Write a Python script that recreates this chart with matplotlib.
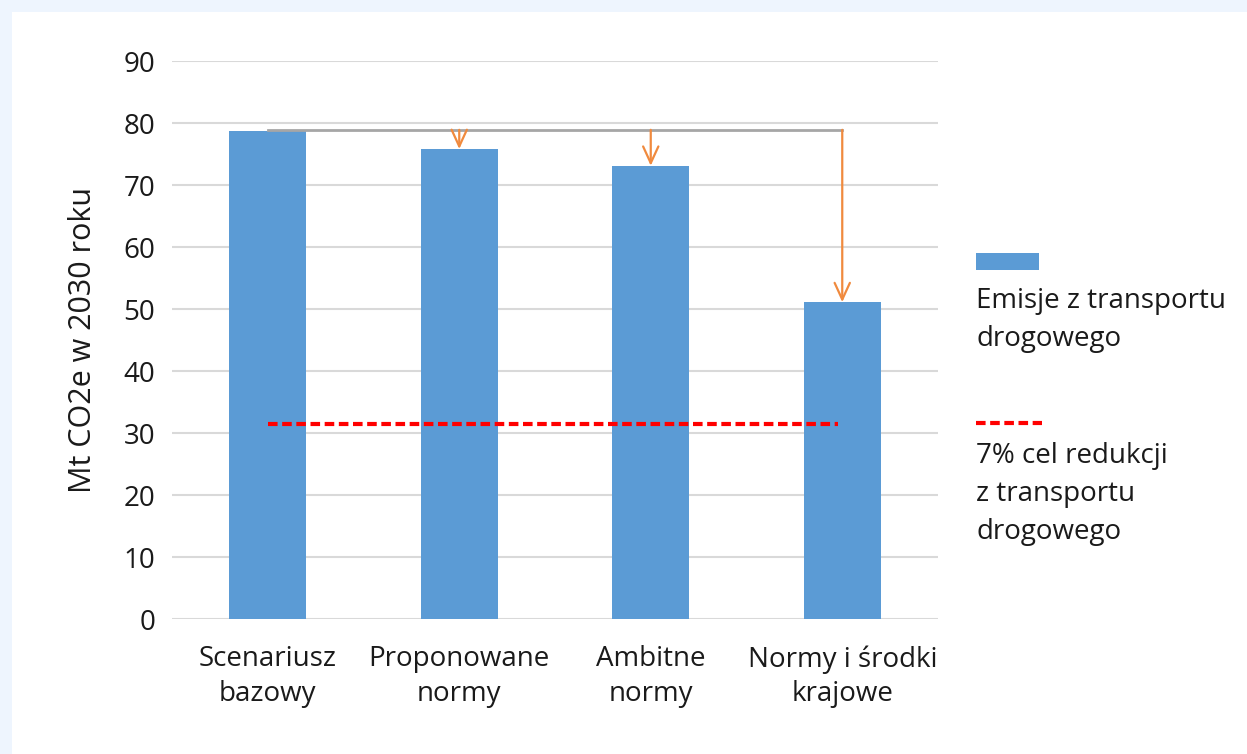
import matplotlib
matplotlib.use("Agg")
import matplotlib.pyplot as plt
from matplotlib.patches import Rectangle

plt.rcParams['font.family'] = ['Open Sans', 'DejaVu Sans']

categories = ["Scenariusz\nbazowy", "Proponowane\nnormy", "Ambitne\nnormy", "Normy i środki\nkrajowe"]
emissions = [78.7, 75.8, 73.1, 51.1]
target = 31.5
baseline_ref = 78.9
yticks = [0, 10, 20, 30, 40, 50, 60, 70, 80, 90]
ylabel = "Mt CO2e w 2030 roku"
legend_bar = "Emisje z transportu\ndrogowego"
legend_line = "7% cel redukcji\nz transportu\ndrogowego"

FS = 20
TXT = "#1a1a1a"
W, H = 1247, 754
fig = plt.figure(figsize=(W / 100, H / 100), dpi=100)
fig.patch.set_facecolor("#EEF5FE")
fig.patches.append(Rectangle((12 / W, 0), 1 - 12 / W, 1 - 12 / H, transform=fig.transFigure,
                             facecolor="white", edgecolor="none", zorder=-10))

ax = fig.add_axes([172 / W, 1 - 619 / H, (938 - 172) / W, (619 - 61) / H], zorder=2)
ax.set_facecolor("none")
x = list(range(len(categories)))
ax.bar(x, emissions, width=0.4, color="#5B9BD5", zorder=2)
ax.set_xlim(-0.5, 3.5)
ax.set_ylim(0, 90)
ax.set_yticks(yticks)
ax.set_yticklabels([str(v) for v in yticks], fontsize=FS, color=TXT)
ax.set_xticks(x)
ax.set_xticklabels(categories, fontsize=FS, color=TXT, linespacing=1.3)
ax.tick_params(axis="y", length=0, pad=12)
ax.tick_params(axis="x", length=0, pad=19)
ax.grid(axis="y", color="#D9D9D9", linewidth=1.5, zorder=0)
ax.set_axisbelow(True)
for s in ax.spines.values():
    s.set_visible(False)
ax.set_ylabel(ylabel, fontsize=22, color=TXT, labelpad=18)

DASH = (0, (2.3, 1.1))
# reference gray line
ax.plot([0, 3], [baseline_ref, baseline_ref], color="#A6A6A6", linewidth=2, zorder=3)
# red dashed target
ax.plot([0, 2.98], [target, target], color="#FF0000", linewidth=3, linestyle=DASH, zorder=4)
# arrows
for i in range(1, 4):
    ax.annotate("", xy=(i, emissions[i]), xytext=(i, baseline_ref),
                arrowprops=dict(arrowstyle="->,head_length=1.2,head_width=0.55", color="#F08A3E", lw=1.6,
                                shrinkA=0, shrinkB=0), zorder=5)

# legend
fig.patches.append(Rectangle((976 / W, 1 - 270 / H), 63 / W, 17 / H, transform=fig.transFigure,
                             facecolor="#5B9BD5", edgecolor="none", zorder=3))
fig.text(976 / W, 1 - 287 / H, legend_bar, fontsize=FS, color=TXT, va="top", ha="left", linespacing=1.47)
fig.lines.append(plt.Line2D([976 / W, 1042 / W], [1 - 423 / H, 1 - 423 / H], transform=fig.transFigure,
                            color="#FF0000", linewidth=3, linestyle=DASH, zorder=3))
fig.text(976 / W, 1 - 442 / H, legend_line, fontsize=FS, color=TXT, va="top", ha="left", linespacing=1.47)

fig.savefig("out.png", dpi=100, facecolor=fig.get_facecolor())
